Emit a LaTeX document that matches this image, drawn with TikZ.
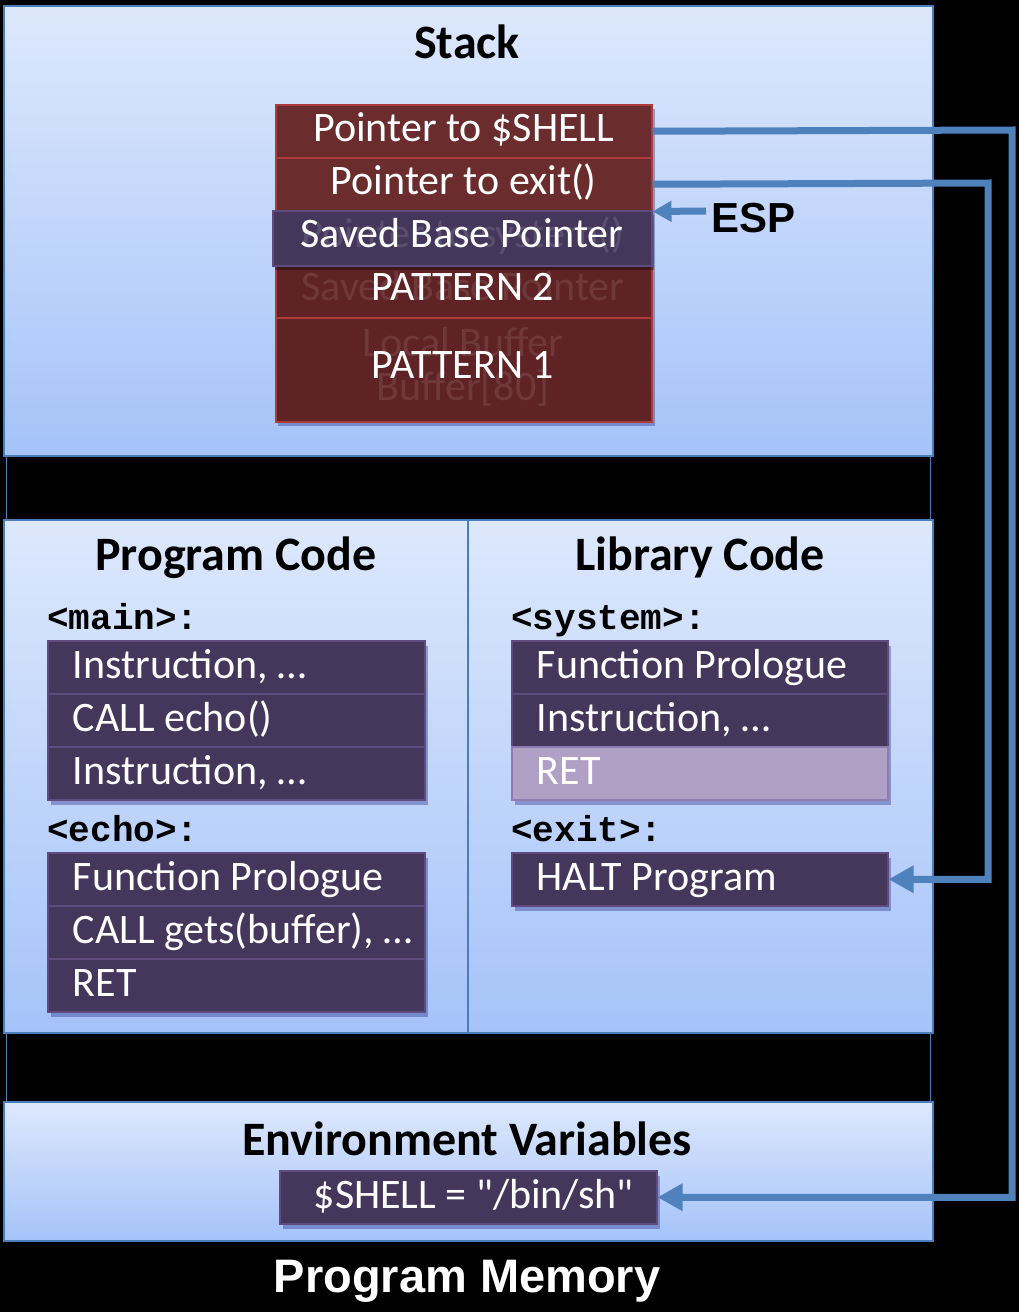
\documentclass[tikz,border=0pt]{standalone}
\usepackage{fontspec}
\setmainfont{Carlito}[Ligatures=TeXOff]
\newfontfamily\arialf{Liberation Sans}
\newfontfamily\monof{Liberation Mono}
\usetikzlibrary{arrows.meta,shadows}
\definecolor{secTop}{HTML}{DDE8FC}
\definecolor{secBot}{HTML}{A5C3F9}
\definecolor{secBorder}{HTML}{4A7EBB}
\definecolor{redA}{HTML}{6A2C2D}
\definecolor{redB}{HTML}{5F2326}
\definecolor{redLine}{HTML}{B03A3A}
\definecolor{pFill}{HTML}{45375C}
\definecolor{pBorder}{HTML}{5F4B7E}
\definecolor{pLight}{HTML}{B0A0C6}
\definecolor{pLightBorder}{HTML}{8E7CAE}
\definecolor{arrowBlue}{HTML}{4F81BD}
\newcommand\myrowfont{\fontsize{42}{50}\selectfont}
\newcommand\mytitlefont{\fontsize{48}{56}\selectfont\bfseries}
\newcommand\mylabfont{\monof\bfseries\fontsize{36}{40}\selectfont}
\newcommand\crowtxt[1]{\makebox[327pt][l]{#1}}
\newcommand\lrowtxt[1]{\makebox[326pt][l]{#1}}
\begin{document}
\begin{tikzpicture}[x=1pt,y=-1pt,
  secbox/.style={draw=secBorder, line width=2pt, top color=secTop, bottom color=secBot, anchor=north west, inner sep=0pt},
  srow/.style={draw=redLine, line width=1.5pt, fill=redA, minimum width=376pt, minimum height=53pt, anchor=north west, inner sep=0pt, text=white, font=\myrowfont, text height=30pt, text depth=9pt},
  prow/.style={draw=pBorder, line width=1.5pt, fill=pFill, minimum height=53pt, anchor=north west, inner xsep=25pt, inner ysep=0pt, text=white, font=\myrowfont, text height=30pt, text depth=7pt, drop shadow={shadow xshift=3pt, shadow yshift=-5pt, opacity=0.3, fill=black!60!blue}},
  ghost/.style={text=white, opacity=0.1, font=\myrowfont, anchor=base, inner sep=0pt},
  ttl/.style={font=\mytitlefont, anchor=base, inner sep=0pt},
  lab/.style={font=\mylabfont, anchor=base west, inner sep=0pt},
  conn/.style={color=arrowBlue, line width=7pt},
  bigtip/.style={-{Triangle[length=25pt,width=26pt]}}
]
\useasboundingbox (0,0) rectangle (1019,1312);
\fill[black] (0,0) rectangle (1019,1312);
% thin outer frame seen in the gaps
\draw[secBorder, line width=1pt] (6,5) rectangle (930,1240);

% section boxes
\node[secbox, minimum width=929pt, minimum height=450pt] (stackbox) at (3,5) {};
\node[secbox, minimum width=464pt, minimum height=513pt] (progbox) at (3,519) {};
\node[secbox, minimum width=465pt, minimum height=513pt] (libbox) at (467,519) {};
\node[secbox, minimum width=929pt, minimum height=139pt] (envbox) at (3,1101) {};

% titles
\node[ttl] (tstack) at (467,58) {Stack};
\node[ttl] (tprog) at (236,570) {Program Code};
\node[ttl] (tlib) at (700,570) {Library Code};
\node[ttl] (tenv) at (467,1155) {Environment Variables};
\node[font=\arialf\bfseries\fontsize{47}{52}\selectfont, text=white, anchor=base, inner sep=0pt] (tmem) at (467,1292) {Program Memory};

% stack
\fill[black!60!blue, opacity=0.3] (278,109) rectangle (655,426);
\node[srow] (sh) at (275,104) {Pointer to \$SHELL};
\node[srow] (ex) at (275,157) {Pointer to exit()};
\node[srow, fill=redB] (p2) at (275,264) {};
\node[ghost] (gp2) at (463,300) {Saved Base Pointer};
\node[text=white, font=\myrowfont, anchor=base, inner sep=0pt] (tp2) at (463,300) {PATTERN 2};
\node[srow, fill=redB, minimum height=104pt] (p1) at (275,317) {};
\node[ghost] (gp1a) at (463,356) {Local Buffer};
\node[ghost] (gp1b) at (463,400) {Buffer[80]};
\node[text=white, font=\myrowfont, anchor=base, inner sep=0pt] (tp1) at (463,378) {PATTERN 1};
\node[srow, draw=pBorder, fill=pFill, minimum width=379pt, minimum height=55pt, drop shadow={shadow xshift=2pt, shadow yshift=-4pt, opacity=0.35, fill=black}] (sbp) at (272,210) {};
\node[ghost, opacity=0.12] (gsbp) at (463,247) {Pointer to system()};
\node[text=white, font=\myrowfont, anchor=base, inner sep=0pt] (tsbp) at (462,247) {Saved Base Pointer};

% ESP
\coordinate (espstart) at (706,211);
\draw[conn, -{Triangle[length=19pt,width=20pt]}] (espstart) -- (ex.south east);
\node[font=\arialf\bfseries\fontsize{42}{48}\selectfont, anchor=base west, inner sep=0pt] (esp) at (711,232) {ESP};

% program code
\node[lab] (lmain) at (47,629) {<main>:};
\node[prow] (m1) at (47,640) {\crowtxt{Instruction, …}};
\node[prow] (m2) at (47,693) {\crowtxt{CALL echo()}};
\node[prow] (m3) at (47,746) {\crowtxt{Instruction, …}};
\node[lab] (lecho) at (47,841) {<echo>:};
\node[prow] (e1) at (47,852) {\crowtxt{Function Prologue}};
\node[prow] (e2) at (47,905) {\crowtxt{CALL gets(buffer), …}};
\node[prow] (e3) at (47,958) {\crowtxt{RET}};

% library code
\node[lab] (lsys) at (511,629) {<system>:};
\node[prow] (s1) at (511,640) {\lrowtxt{Function Prologue}};
\node[prow] (s2) at (511,693) {\lrowtxt{Instruction, …}};
\node[prow, fill=pLight, draw=pLightBorder] (s3) at (511,746) {\lrowtxt{RET}};
\node[lab] (lexit) at (511,841) {<exit>:};
\node[prow] (halt) at (511,852) {\lrowtxt{HALT Program}};

% environment
\node[prow, inner xsep=0pt] (envsh) at (279,1170) {\makebox[377pt][l]{\hspace*{34pt}\$SHELL = "/bin/sh"}};

% connectors
\coordinate (c1) at (1012,130);
\coordinate (c2) at (988,183);
\draw[conn, bigtip] (sh.east) -- (c1) |- (envsh.east);
\draw[conn, bigtip] (ex.east) -- (c2) |- (halt.east);
\end{tikzpicture}
\end{document}
